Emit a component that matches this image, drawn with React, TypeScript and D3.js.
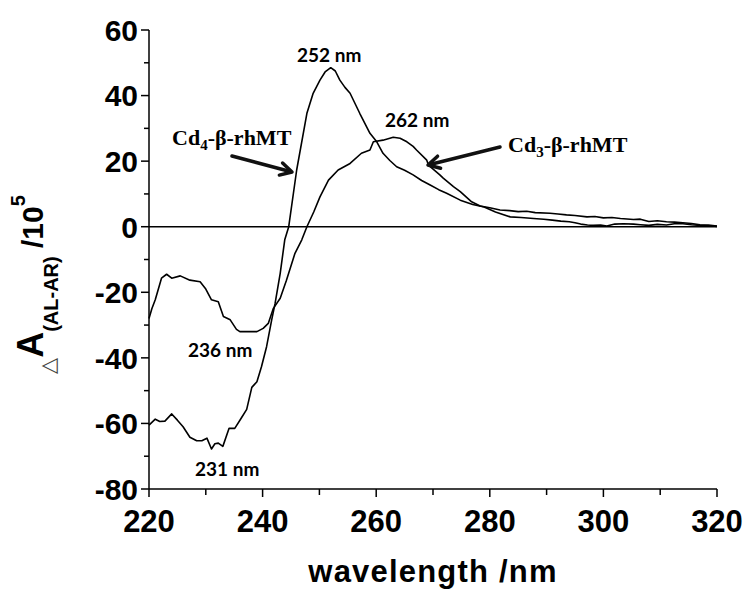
import React from 'react';
import * as d3 from 'd3';

// Cd4-β-rhMT (steep curve, peak 252 nm, trough 231 nm)
const cd4Wavelength = [220, 221.1, 221.9, 222.8, 224, 225, 226, 227.2, 228.4, 229.3, 230.2, 231, 231.6, 232.2, 233, 234.1, 235.1, 236.2, 237.2, 238.1, 239, 239.8, 240.7, 241.6, 242.2, 243.1, 243.9, 244.6, 246, 247.8, 248.9, 250.1, 251, 252, 252.8, 253.6, 254.5, 255.4, 257.1, 258.9, 260.1, 261.2, 262.4, 263.6, 265, 266.5, 268, 269.5, 271, 272.4, 274.8, 277, 279, 281, 283.6, 285.5, 287.7, 289.5, 291, 292.5, 294, 295, 296, 297.2, 298.2, 299.5, 300.6, 302, 303.5, 305.3, 306.5, 308, 309.5, 311.1, 312.5, 314, 315.5, 317, 318.5, 320];
const cd4Values = [-60.5, -58.7, -59.4, -59.3, -57.1, -59, -61, -64.2, -65.3, -65.3, -64.5, -67.8, -66.2, -66, -67, -61.5, -61.5, -58.5, -55.7, -49, -47.3, -42.7, -36.6, -28.4, -23.4, -14.2, -4, 0, 17.3, 34.6, 40.7, 44.7, 47.2, 48.5, 47.5, 44.7, 42.5, 40.7, 34.6, 28.5, 25.9, 22.4, 20.2, 18.3, 17.2, 15.8, 14.1, 12.7, 11.3, 10.2, 8.1, 6.8, 6.0, 4.5, 3.0, 2.8, 2.5, 2.3, 2.0, 1.7, 1.5, 1.2, 0.8, 0.5, 0.4, 0.5, 0.2, 0.8, 0.9, 0.8, 0.6, 0.4, 0.7, 0.5, 0.9, 0.9, 0.6, 0.4, 0.3, 0.1];

// Cd3-β-rhMT (broad curve, peak 262 nm, trough 236 nm)
const cd3Wavelength = [220, 220.5, 221.1, 222.2, 223.1, 224, 225.5, 227.2, 229, 230, 231, 232.2, 233.1, 234.3, 235.4, 236, 237.5, 239, 240.1, 241, 241.9, 243.1, 244.2, 245.7, 246.9, 247.8, 249, 250.1, 251.6, 253.3, 255.4, 257.4, 258.9, 259.5, 261.2, 263, 264.2, 265.4, 266.5, 267.1, 268.9, 269.2, 271.2, 271.8, 273.6, 274.8, 276.8, 278.3, 280, 281.8, 283.5, 285, 286.5, 288, 290.6, 292, 293.5, 295, 297.1, 298.5, 300, 301.5, 303, 305.3, 306.5, 308, 309.5, 311.1, 312.5, 314, 315.5, 317, 318.5, 320];
const cd3Values = [-28, -25, -22.3, -15.7, -14.5, -15.7, -15, -16.3, -16.8, -19, -22.3, -22.9, -27.4, -28.4, -31.3, -32, -32, -32, -31, -29.5, -24.9, -21.8, -16.3, -8.1, -4, 0, 4.5, 9.1, 14.2, 17.3, 19.3, 22.4, 23.4, 25.9, 26.4, 27.3, 27, 25.9, 24.5, 23.4, 20.3, 18.8, 15.8, 14.8, 12.2, 10.7, 7.6, 6.3, 5.8, 5.1, 4.9, 4.6, 4.7, 4.3, 4.1, 3.9, 3.6, 3.4, 3.0, 3.1, 2.7, 2.8, 2.5, 2.2, 2.3, 1.6, 1.8, 1.5, 1.4, 1.2, 1.0, 0.6, 0.5, 0.2];

const xTicks = [220, 240, 260, 280, 300, 320];
const xMinorTicks = [230, 250, 270, 290, 310];
const yTicks = [-80, -60, -40, -20, 0, 20, 40, 60];
const yMinorTicks = [-70, -50, -30, -10, 10, 30, 50];

const peakLabels = [
  { text: '252 nm', x: 297, y: 62 },
  { text: '262 nm', x: 385, y: 127 },
  { text: '236 nm', x: 188, y: 357 },
  { text: '231 nm', x: 195, y: 476 },
];

export default function App() {
  const W = 743;
  const H = 592;
  const x = d3.scaleLinear().domain([220, 320]).range([149, 717]);
  const y = d3.scaleLinear().domain([-80, 60]).range([489, 30]);
  const line = d3
    .line<[number, number]>()
    .x((d) => x(d[0]))
    .y((d) => y(d[1]));
  const cd4: [number, number][] = cd4Wavelength.map((w, i) => [w, cd4Values[i]]);
  const cd3: [number, number][] = cd3Wavelength.map((w, i) => [w, cd3Values[i]]);

  const axisFont = "'Liberation Sans', Arial, sans-serif";
  const serif = "'Liberation Serif', 'Times New Roman', serif";
  const calib = "Lato, 'Open Sans', sans-serif";

  const arrow = (x1: number, y1: number, x2: number, y2: number) => {
    const ang = Math.atan2(y2 - y1, x2 - x1);
    const L = 13;
    const a1 = ang + Math.PI - 0.5;
    const a2 = ang + Math.PI + 0.5;
    const p1 = [x2 + L * Math.cos(a1), y2 + L * Math.sin(a1)];
    const p2 = [x2 + L * Math.cos(a2), y2 + L * Math.sin(a2)];
    return (
      <g stroke="#111" strokeWidth={3.5} fill="none" strokeLinecap="round" strokeLinejoin="round">
        <line x1={x1} y1={y1} x2={x2 - 2 * Math.cos(ang)} y2={y2 - 2 * Math.sin(ang)} />
        <path d={`M${p1[0]},${p1[1]} L${x2},${y2} L${p2[0]},${p2[1]}`} />
      </g>
    );
  };

  return (
    <svg
      width={W}
      height={H}
      style={{ position: 'absolute', left: 0, top: 0, background: '#fff' }}
    >
      <rect width={W} height={H} fill="#fff" />
      {/* zero line */}
      <line x1={x(220)} x2={x(320)} y1={y(0)} y2={y(0)} stroke="#000" strokeWidth={1.5} />
      {/* axes */}
      <line x1={x(220)} x2={x(220)} y1={y(60)} y2={y(-80)} stroke="#000" strokeWidth={1.5} />
      <line x1={x(220)} x2={x(320)} y1={y(-80)} y2={y(-80)} stroke="#000" strokeWidth={1.5} />
      {yTicks.map((t) => (
        <g key={'yt' + t}>
          <line x1={x(220) - 8} x2={x(220)} y1={y(t)} y2={y(t)} stroke="#000" strokeWidth={1.5} />
          <text
            x={138}
            y={y(t)}
            dy="0.36em"
            textAnchor="end"
            fontFamily={axisFont}
            fontWeight="bold"
            fontSize={30}
          >
            {t}
          </text>
        </g>
      ))}
      {yMinorTicks.map((t) => (
        <line key={'ym' + t} x1={x(220) - 5} x2={x(220)} y1={y(t)} y2={y(t)} stroke="#000" strokeWidth={1.5} />
      ))}
      {xTicks.map((t) => (
        <g key={'xt' + t}>
          <line x1={x(t)} x2={x(t)} y1={y(-80)} y2={y(-80) + 8} stroke="#000" strokeWidth={1.5} />
          <text
            x={x(t)}
            y={532}
            textAnchor="middle"
            fontFamily={axisFont}
            fontWeight="bold"
            fontSize={31}
          >
            {t}
          </text>
        </g>
      ))}
      {xMinorTicks.map((t) => (
        <line key={'xm' + t} x1={x(t)} x2={x(t)} y1={y(-80)} y2={y(-80) + 6} stroke="#000" strokeWidth={1.5} />
      ))}
      {/* curves */}
      <path d={line(cd4) || ''} fill="none" stroke="#000" strokeWidth={1.6} strokeLinejoin="round" />
      <path d={line(cd3) || ''} fill="none" stroke="#000" strokeWidth={1.6} strokeLinejoin="round" />
      {/* axis titles */}
      <text
        x={433}
        y={582}
        textAnchor="middle"
        fontFamily={axisFont}
        fontWeight="bold"
        fontSize={31}
        letterSpacing={1.2}
      >
        wavelength /nm
      </text>
      <text
        transform="translate(43,374) rotate(-90)"
        fontFamily={axisFont}
        fontWeight="bold"
        fontSize={32}
      >
        <tspan fontSize={21} fontWeight="normal" fill="#444" dy={12} fontFamily="'DejaVu Sans', sans-serif">△</tspan>
        <tspan dy={-12} fontSize={36}>A</tspan>
        <tspan fontSize={20} dy={15}>(AL-AR)</tspan>
        <tspan dy={-15} fontSize={30}> /10</tspan>
        <tspan fontSize={20} dy={-18}>5</tspan>
      </text>
      {/* peak labels */}
      {peakLabels.map((p) => (
        <text key={p.text} x={p.x} y={p.y} fontFamily={calib} fontWeight="bold" fontSize={19}>
          {p.text}
        </text>
      ))}
      {/* species labels */}
      <text x={172} y={145} fontFamily={serif} fontWeight="bold" fontSize={22}>
        Cd<tspan fontSize={15} dy={5}>4</tspan>
        <tspan dy={-5}>-β-rhMT</tspan>
      </text>
      <text x={508} y={152} fontFamily={serif} fontWeight="bold" fontSize={22}>
        Cd<tspan fontSize={15} dy={5}>3</tspan>
        <tspan dy={-5}>-β-rhMT</tspan>
      </text>
      {arrow(232, 156, 292, 172)}
      {arrow(500, 147, 428, 165)}
    </svg>
  );
}
